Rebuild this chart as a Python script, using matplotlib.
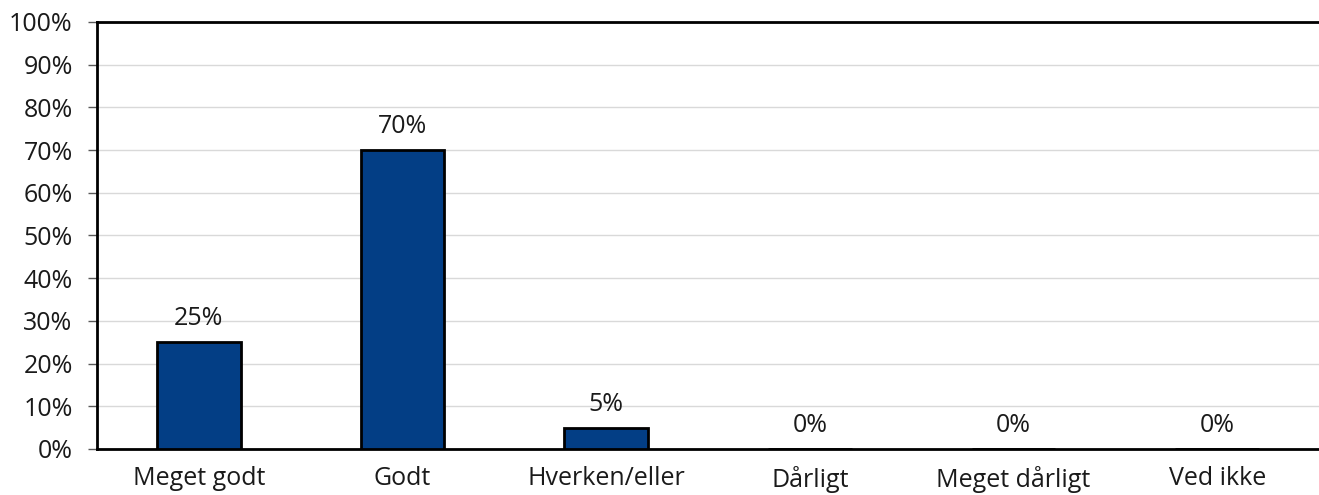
import numpy as np
import matplotlib.pyplot as plt
from matplotlib.ticker import PercentFormatter

plt.rcParams['font.family'] = ['Open Sans', 'DejaVu Sans']

categories = ["Meget godt", "Godt", "Hverken/eller", "Dårligt", "Meget dårligt", "Ved ikke"]
values = [25, 70, 5, 0, 0, 0]
yticks = np.arange(0, 101, 10)

fig = plt.figure(figsize=(13.19, 4.95), dpi=100)
ax = fig.add_axes([0.0735, 0.093, 0.9265, 0.8627])

x = np.arange(len(categories))
bars = ax.bar(x, values, width=0.41, color='#033E85', edgecolor='black', linewidth=2, zorder=3)

for xi, v in zip(x, values):
    ax.annotate("{}%".format(v), (xi, v), xytext=(0, 8), textcoords='offset points',
                ha='center', va='bottom', fontsize=18, color='#1a1a1a')

ax.set_xlim(-0.5, len(categories) - 0.5)
ax.set_ylim(0, 100)
ax.set_yticks(yticks)
ax.yaxis.set_major_formatter(PercentFormatter(decimals=0))
ax.set_xticks(x)
ax.set_xticklabels(categories)
ax.tick_params(axis='x', length=0, pad=12, labelsize=18, labelcolor='#1a1a1a')
ax.tick_params(axis='y', length=6.5, width=1, color='#595959', pad=11, labelsize=18, labelcolor='#1a1a1a')

ax.grid(axis='y', color='#d9d9d9', linewidth=1, zorder=0)
ax.spines['right'].set_visible(False)
for s in ['left', 'bottom', 'top']:
    ax.spines[s].set_linewidth(2)
    ax.spines[s].set_color('black')

fig.savefig("out.png", dpi=100)
